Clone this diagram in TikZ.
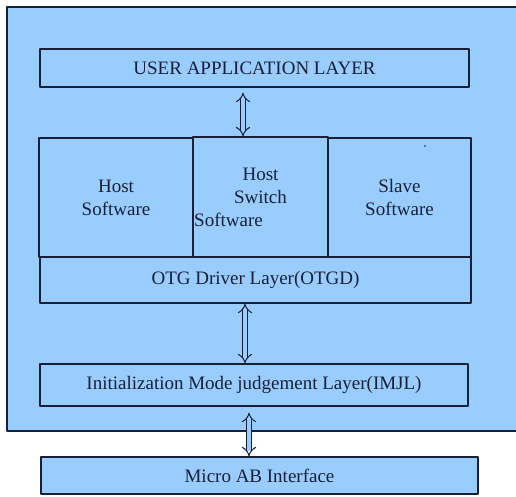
\documentclass[tikz,border=0pt]{standalone}
\usepackage{fontspec}
\setmainfont{Liberation Serif}
\usetikzlibrary{arrows.meta}
\definecolor{layerblue}{RGB}{153,204,255}
\definecolor{inkblue}{RGB}{24,32,54}
\begin{document}
\begin{tikzpicture}[x=1pt,y=-1pt, line join=round, font=\fontsize{19}{23}\selectfont,
  layer/.style={draw=inkblue, line width=1.2pt, fill=layerblue, text=inkblue, inner sep=0pt, align=center},
  link/.style={draw=inkblue, line width=1pt, double=layerblue, double distance=4pt, {Implies[length=9pt]}-{Implies[length=9pt]}}]
\useasboundingbox (0,0) rectangle (516,496);
\draw[draw=inkblue, line width=1.5pt, fill=layerblue] (7,7) rectangle (530,431);
\node[layer, minimum width=429, minimum height=38] (ual) at (254.5,68) {USER APPLICATION LAYER};
\node[layer, minimum width=154, minimum height=119] (hs) at (116,197.5) {Host\\Software};
\node[layer, minimum width=135, minimum height=120] (hss) at (260.5,197) {Host\\Switch\\\hspace*{-64pt}Software};
\node[layer, minimum width=143, minimum height=119] (ss) at (399.5,197.5) {Slave\\Software};
\node[layer, minimum width=431, minimum height=46] (otgd) at (255.5,280) {OTG Driver Layer(OTGD)};
\node[layer, minimum width=428, minimum height=42] (imjl) at (254,385) {Initialization Mode judgement Layer(IMJL)};
\node[layer, minimum width=437, minimum height=37] (mab) at (259.5,475.5) {Micro AB Interface};
\fill[inkblue] (425,146) circle (0.8);
\draw[link] ([shift={(-11.5,5)}]ual.south) -- ([xshift=-11.5]ual.south |- hss.north);
\draw[link] ([xshift=-10.5]otgd.south) -- ([xshift=-10.5]otgd.south |- imjl.north);
\draw[link] ([shift={(-5,6)}]imjl.south) -- ([xshift=-5]imjl.south |- mab.north);
\end{tikzpicture}
\end{document}
